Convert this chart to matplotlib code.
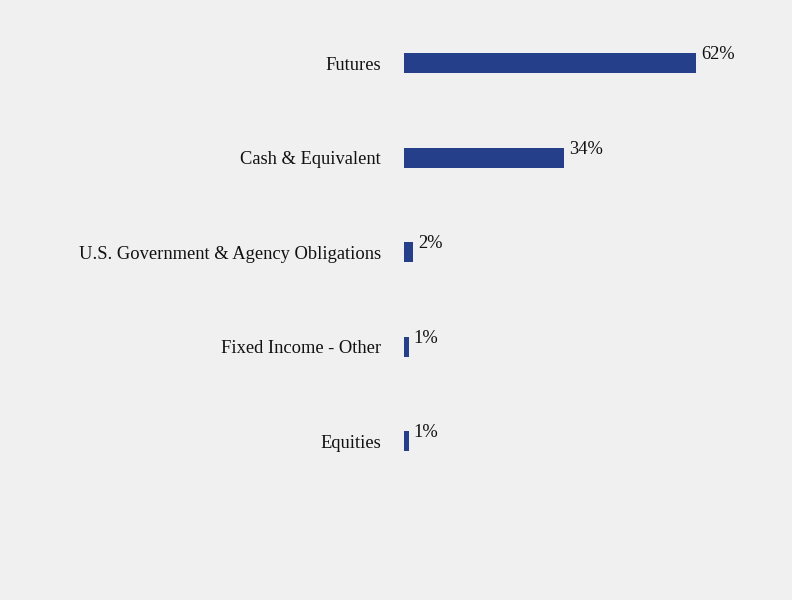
import matplotlib.pyplot as plt

categories = ["Futures", "Cash & Equivalent", "U.S. Government & Agency Obligations",
              "Fixed Income - Other", "Equities"]
values = [62, 34, 2, 1, 1]
labels = ["62%", "34%", "2%", "1%", "1%"]

plt.rcParams["font.family"] = ["Liberation Serif", "DejaVu Serif"]

bg = "#f0f0f0"
fig = plt.figure(figsize=(7.92, 6), dpi=100, facecolor=bg)
ax = fig.add_axes([404 / 792, 1 - 488.5 / 600, 377 / 792, 472.5 / 600])
ax.set_facecolor(bg)

pos = list(range(len(categories)))
ax.barh(pos, values, height=0.21, color="#253f8a")
ax.set_xlim(0, 80)
ax.set_ylim(len(categories) - 0.5, -0.5)

for p, v, lab in zip(pos, values, labels):
    ax.annotate(lab, (v, p), xytext=(3.5, 6), textcoords="offset points",
                va="center", ha="left", fontsize=13.3, color="#111111")

ax.set_yticks(pos)
ax.set_yticklabels(categories, fontsize=13.3, color="#111111")
ax.tick_params(axis="y", length=0, pad=16.5)
ax.set_xticks([])
for s in ax.spines.values():
    s.set_visible(False)

fig.savefig("out.png", dpi=100, facecolor=bg)
